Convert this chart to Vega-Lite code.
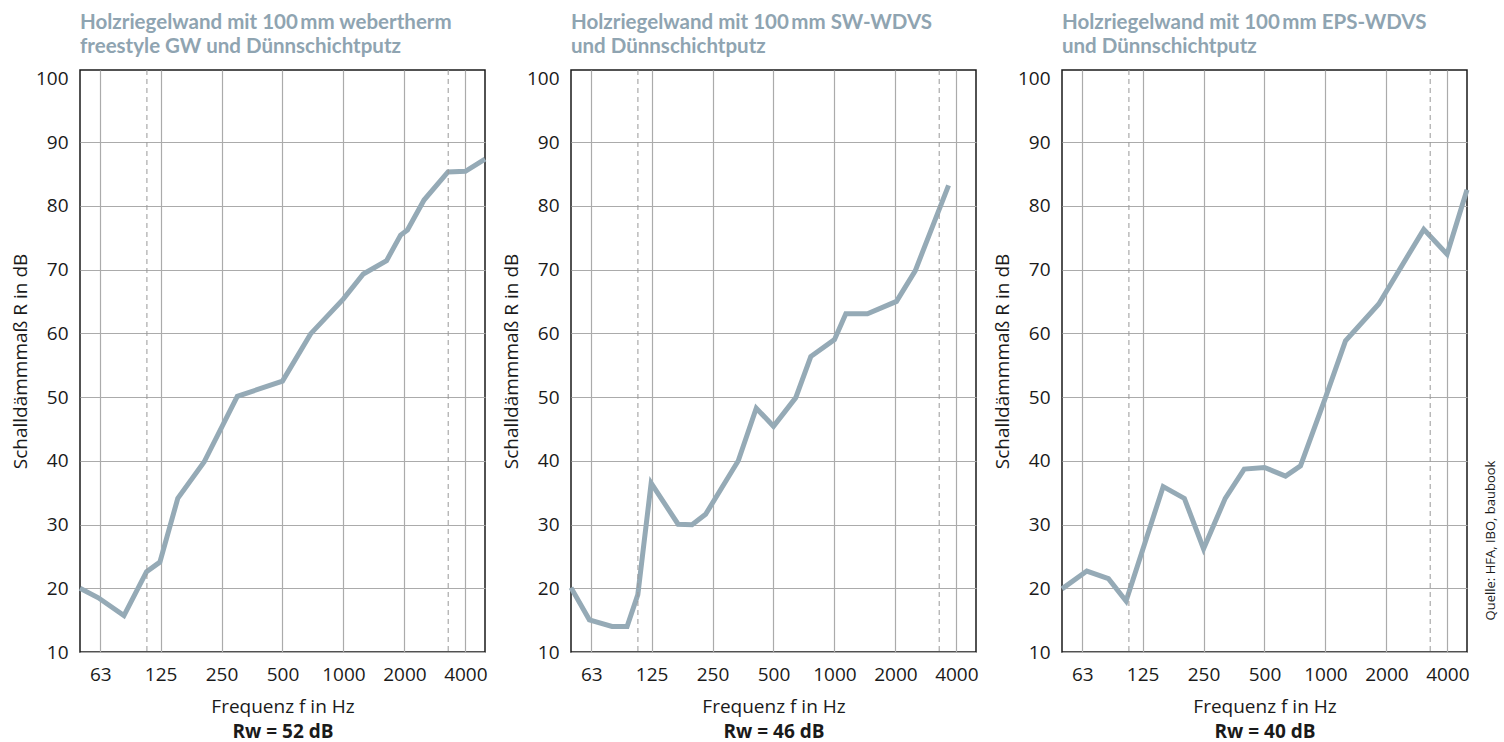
{
  "$schema": "https://vega.github.io/schema/vega-lite/v6.json",
  "background": "white",
  "padding": {"left": 10, "top": 12, "right": 2, "bottom": 2},
  "config": {
    "view": {"stroke": "#1a1a1a", "strokeWidth": 1.5},
    "axis": {"labelFont": "Open Sans", "labelFontSize": 19, "labelColor": "#1a1a1a", "titleFont": "Open Sans", "titleFontSize": 19, "titleFontWeight": "normal", "titleColor": "#1a1a1a", "gridColor": "#ababab", "gridWidth": 1.2, "domain": false, "ticks": false}
  },
  "datasets": {
    "p1": [{"f":50,"R":20.0},{"f":61.6,"R":18.5},{"f":82.4,"R":15.7},{"f":106.6,"R":22.6},{"f":124,"R":24.1},{"f":152,"R":34.1},{"f":205,"R":39.8},{"f":299,"R":50.1},{"f":500,"R":52.5},{"f":688,"R":59.9},{"f":1000,"R":65.4},{"f":1253,"R":69.3},{"f":1633,"R":71.4},{"f":1915,"R":75.4},{"f":2070,"R":76.2},{"f":2500,"R":80.9},{"f":3283,"R":85.3},{"f":4000,"R":85.4},{"f":5000,"R":87.3}],
    "p2": [{"f":50,"R":20.1},{"f":61.6,"R":15.05},{"f":79.7,"R":14.0},{"f":94.6,"R":14.0},{"f":106.9,"R":19.0},{"f":124.4,"R":36.5},{"f":169,"R":30.05},{"f":198,"R":29.95},{"f":231,"R":31.6},{"f":335,"R":40.0},{"f":411,"R":48.25},{"f":500,"R":45.4},{"f":644,"R":49.9},{"f":764,"R":56.35},{"f":1000,"R":59.0},{"f":1138,"R":63.05},{"f":1455,"R":63.05},{"f":2024,"R":65.0},{"f":2505,"R":69.8},{"f":3660,"R":83.2}],
    "p3": [{"f":50,"R":19.9},{"f":66.3,"R":22.7},{"f":84.8,"R":21.5},{"f":103.6,"R":18.0},{"f":158,"R":35.95},{"f":201,"R":34.1},{"f":250,"R":26.2},{"f":320,"R":34.1},{"f":397,"R":38.7},{"f":500,"R":38.95},{"f":635,"R":37.6},{"f":753,"R":39.2},{"f":1000,"R":49.9},{"f":1256,"R":58.8},{"f":1834,"R":64.6},{"f":3059,"R":76.3},{"f":3985,"R":72.4},{"f":5000,"R":82.5}],
    "dash": [{"f":107},{"f":3290}]
  },
  "spacing": 86,
  "bounds": "flush",
  "hconcat": [
    {
      "width": 405, "height": 582,
      "title": {"text": ["Holzriegelwand mit 100\u2009mm webertherm", "freestyle GW und Dünnschichtputz"], "anchor": "start", "frame": "group", "offset": 12, "fontSize": 20.5, "font": "Lato", "fontWeight": "bold", "color": "#8fa4b1", "lineHeight": 23.5},
      "resolve": {"axis": {"x": "independent"}},
      "layer": [
        {"data": {"name": "p1"}, "mark": {"type": "line", "color": "#95aab6", "strokeWidth": 5},
         "encoding": {
           "x": {"field": "f", "type": "quantitative", "scale": {"type": "log", "domain": [50, 5000], "nice": false}, "axis": {"values": [63,125,250,500,1000,2000,4000], "format": "d", "title": "Frequenz f in Hz", "labelPadding": 13, "titlePadding": 13, "labelFlush": false, "labelOverlap": false, "grid": true}},
           "y": {"field": "R", "type": "quantitative", "scale": {"domain": [10, 101.3], "nice": false, "zero": false}, "axis": {"values": [10,20,30,40,50,60,70,80,90,100], "title": "Schalldämmmaß R in dB", "labelPadding": 12, "titlePadding": 5, "labelFlush": false, "labelOverlap": false, "gridOpacity": {"condition": {"test": "datum.value >= 100", "value": 0}, "value": 1}}}
         }},
        {"data": {"name": "dash"}, "mark": {"type": "rule", "color": "#999999", "strokeWidth": 1, "strokeDash": [5, 4]},
         "encoding": {"x": {"field": "f", "type": "quantitative", "axis": {"orient": "bottom", "labels": false, "grid": false, "title": "Rw = 52 dB", "titleFontWeight": "bold", "titlePadding": 70}}}}
      ]
    },
    {
      "width": 405, "height": 582,
      "title": {"text": ["Holzriegelwand mit 100\u2009mm SW-WDVS", "und Dünnschichtputz"], "anchor": "start", "frame": "group", "offset": 12, "fontSize": 20.5, "font": "Lato", "fontWeight": "bold", "color": "#8fa4b1", "lineHeight": 23.5},
      "resolve": {"axis": {"x": "independent"}},
      "layer": [
        {"data": {"name": "p2"}, "mark": {"type": "line", "color": "#95aab6", "strokeWidth": 5},
         "encoding": {
           "x": {"field": "f", "type": "quantitative", "scale": {"type": "log", "domain": [50, 5000], "nice": false}, "axis": {"values": [63,125,250,500,1000,2000,4000], "format": "d", "title": "Frequenz f in Hz", "labelPadding": 13, "titlePadding": 13, "labelFlush": false, "labelOverlap": false, "grid": true}},
           "y": {"field": "R", "type": "quantitative", "scale": {"domain": [10, 101.3], "nice": false, "zero": false}, "axis": {"values": [10,20,30,40,50,60,70,80,90,100], "title": "Schalldämmmaß R in dB", "labelPadding": 12, "titlePadding": 5, "labelFlush": false, "labelOverlap": false, "gridOpacity": {"condition": {"test": "datum.value >= 100", "value": 0}, "value": 1}}}
         }},
        {"data": {"name": "dash"}, "mark": {"type": "rule", "color": "#999999", "strokeWidth": 1, "strokeDash": [5, 4]},
         "encoding": {"x": {"field": "f", "type": "quantitative", "axis": {"orient": "bottom", "labels": false, "grid": false, "title": "Rw = 46 dB", "titleFontWeight": "bold", "titlePadding": 70}}}}
      ]
    },
    {
      "width": 405, "height": 582,
      "title": {"text": ["Holzriegelwand mit 100\u2009mm EPS-WDVS", "und Dünnschichtputz"], "anchor": "start", "frame": "group", "offset": 12, "fontSize": 20.5, "font": "Lato", "fontWeight": "bold", "color": "#8fa4b1", "lineHeight": 23.5},
      "resolve": {"axis": {"x": "independent", "y": "independent"}},
      "layer": [
        {"data": {"name": "p3"}, "mark": {"type": "line", "color": "#95aab6", "strokeWidth": 5},
         "encoding": {
           "x": {"field": "f", "type": "quantitative", "scale": {"type": "log", "domain": [50, 5000], "nice": false}, "axis": {"values": [63,125,250,500,1000,2000,4000], "format": "d", "title": "Frequenz f in Hz", "labelPadding": 13, "titlePadding": 13, "labelFlush": false, "labelOverlap": false, "grid": true}},
           "y": {"field": "R", "type": "quantitative", "scale": {"domain": [10, 101.3], "nice": false, "zero": false}, "axis": {"orient": "left", "values": [10,20,30,40,50,60,70,80,90,100], "title": "Schalldämmmaß R in dB", "labelPadding": 12, "titlePadding": 5, "labelFlush": false, "labelOverlap": false, "gridOpacity": {"condition": {"test": "datum.value >= 100", "value": 0}, "value": 1}}}
         }},
        {"data": {"name": "dash"}, "mark": {"type": "rule", "color": "#999999", "strokeWidth": 1, "strokeDash": [5, 4]},
         "encoding": {"x": {"field": "f", "type": "quantitative", "axis": {"orient": "bottom", "labels": false, "grid": false, "title": "Rw = 40 dB", "titleFontWeight": "bold", "titlePadding": 70}}}},
        {"data": {"name": "p3"}, "mark": {"type": "point", "opacity": 0},
         "encoding": {
           "x": {"field": "f", "type": "quantitative", "axis": null},
           "y": {"field": "R", "type": "quantitative", "axis": {"orient": "right", "labels": false, "grid": false, "ticks": false, "domain": false, "title": "Quelle: HFA, IBO, baubook", "titleFont": "Open Sans", "titleFontSize": 13, "titleFontWeight": "normal", "titleAngle": 270, "titleBaseline": "top", "titleAlign": "center", "titlePadding": 17, "titleY": 470}}
         }}
      ]
    }
  ]
}
